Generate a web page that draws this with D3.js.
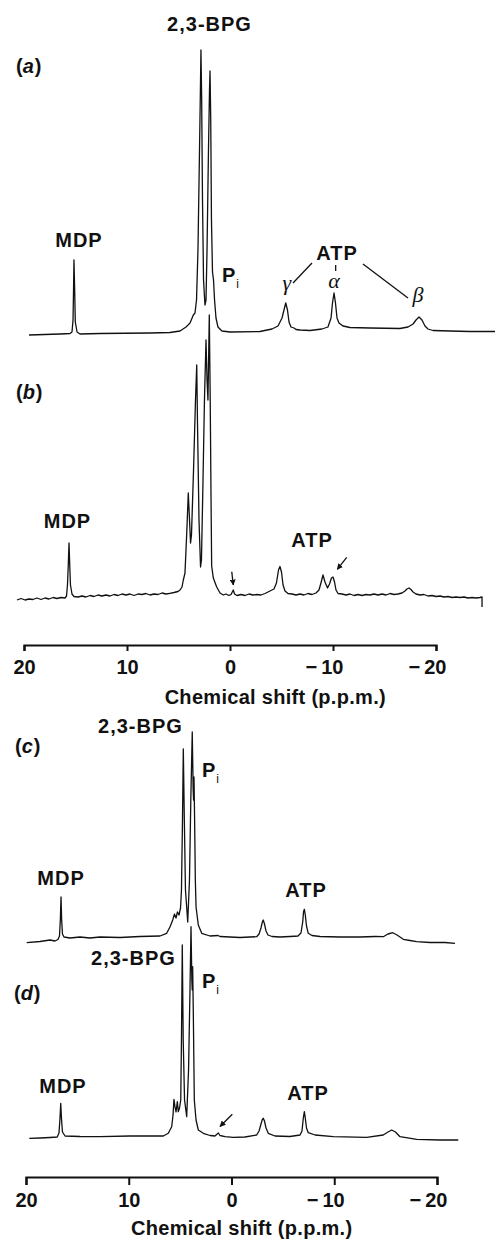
<!DOCTYPE html>
<html>
<head>
<meta charset="utf-8">
<script src="https://cdn.jsdelivr.net/npm/d3@7"></script>
<style>
  body { margin: 0; background: #fff; }
  svg text { font-family: "Liberation Sans", Arial, Helvetica, sans-serif; fill: #111; }
</style>
</head>
<body>
<script>
// chemical shift axis (p.p.m.)
var ticks = [20, 10, 0, -10, -20];
var axisTitle = "Chemical shift (p.p.m.)";

// 31P spectra: [shift (p.p.m.), signal height]
var specA = [
  [19.51,1],[16.50,2],[15.53,2.5],[15.34,4],[15.24,16],[15.19,46],[15.15,76],[15.08,46],[15.02,14],
  [14.85,4],[14.56,2],[12.62,2.5],[7.77,3],[5.83,3.5],[4.85,5],[4.27,9],[3.88,13],[3.56,21],[3.40,23],
  [3.25,36],[3.11,86],[2.96,186],[2.86,256],[2.82,286],[2.75,236],[2.67,136],[2.57,56],[2.43,31],
  [2.33,36],[2.23,86],[2.09,186],[1.99,246],[1.94,265],[1.87,216],[1.80,116],[1.70,64],[1.60,56],
  [1.50,36],[1.36,18],[1.17,9],[0.78,5],[0.00,4],[-2.91,4.5],[-4.08,7],[-4.66,10],[-5.05,18],
  [-5.24,26],[-5.41,33],[-5.58,26],[-5.73,14],[-5.92,9],[-6.21,8],[-6.41,6.5],[-6.80,6],[-7.77,5.5],
  [-8.93,7],[-9.51,9],[-9.81,18],[-9.95,33],[-10.10,43],[-10.24,33],[-10.39,18],[-10.58,13],
  [-10.97,10],[-11.65,8.5],[-13.59,8],[-16.50,7.5],[-17.28,9],[-17.77,12],[-18.06,16],[-18.35,19],
  [-18.64,16],[-18.93,10],[-19.22,7],[-19.71,5.5],[-21.36,5],[-23.30,4.5],[-25.73,4.5]
];

var specB = [
  [20.68,0],[20.29,1.5],[19.90,0],[19.51,1],[19.13,0.5],[18.74,2],[18.35,0.5],[17.96,2],[17.57,1],
  [17.18,2.5],[16.80,1.5],[16.41,2.5],[16.02,2],[15.87,4],[15.78,15],[15.70,35],[15.63,57],[15.56,35],
  [15.49,15],[15.34,6],[15.15,3.5],[14.76,3],[14.37,4],[13.98,3],[13.59,4.5],[13.20,3.5],[12.82,5],
  [12.43,4],[12.04,5],[11.65,4],[11.26,5.5],[10.87,4.5],[10.49,6],[10.10,5],[9.71,6],[9.32,4.5],
  [8.93,6],[8.54,5.5],[8.16,6.5],[7.77,5],[7.38,6],[6.99,5.5],[6.60,7],[6.21,6],[5.83,6.7],[5.44,7.5],
  [5.05,8.5],[4.85,10],[4.66,13],[4.53,20],[4.37,27],[4.20,67],[4.05,107],[3.93,80],[3.83,57],
  [3.74,65],[3.54,130],[3.35,200],[3.23,235],[3.16,180],[3.01,80],[2.86,33],[2.77,40],[2.62,120],
  [2.48,200],[2.33,260],[2.23,220],[2.14,200],[2.01,285],[1.92,200],[1.84,100],[1.78,34],[1.62,22],
  [1.29,13],[0.97,7],[0.65,5],[0.39,6],[0.10,4.5],[-0.10,5.5],[-0.32,10],[-0.44,6],[-0.68,4.5],
  [-1.07,5.5],[-1.46,4.5],[-1.84,6],[-2.23,5],[-2.62,5.5],[-3.01,5],[-3.40,6.5],[-3.69,8],[-4.27,11],
  [-4.51,17],[-4.71,30],[-4.85,33.5],[-5.00,28],[-5.15,15],[-5.34,9],[-5.63,6.5],[-6.02,6],[-6.41,5],
  [-6.80,6],[-7.18,5],[-7.57,6.5],[-7.96,5.5],[-8.35,7],[-8.64,10],[-8.83,17],[-9.03,25],[-9.22,18],
  [-9.47,12],[-9.66,16],[-9.85,22],[-10.00,23],[-10.15,18],[-10.29,10],[-10.49,6.5],[-10.87,6],
  [-11.26,5],[-11.65,6],[-12.04,4.5],[-12.43,5.5],[-12.82,4.5],[-13.20,5.5],[-13.59,5],[-13.98,6],
  [-14.37,5],[-14.76,6],[-15.15,5],[-15.53,6.5],[-15.92,5.5],[-16.31,6],[-16.70,7],[-16.99,9],
  [-17.18,11],[-17.38,12],[-17.57,10.5],[-17.77,8],[-18.06,6],[-18.45,5],[-18.83,5.5],[-19.22,4],
  [-19.61,4.5],[-20.00,3.5],[-20.39,4],[-20.78,3],[-21.17,3.5],[-21.55,2.5],[-21.94,3],[-22.33,2.5],
  [-22.72,3],[-23.11,2],[-23.50,2.5],[-23.88,2],[-24.27,2.5],[-24.47,3],[-24.47,-7]
];

var specC = [
  [19.93,0.3],[18.64,1.5],[17.66,3],[17.18,2],[16.89,3.5],[16.74,7],[16.66,23],[16.59,46],[16.53,23],
  [16.45,9],[16.30,6],[15.72,5],[14.74,6],[13.77,5],[12.80,6],[10.85,5.5],[8.91,6.5],[6.96,7],
  [6.31,9.7],[5.99,16],[5.72,23],[5.55,29],[5.40,25],[5.26,31],[5.11,28],[4.96,35],[4.87,53],
  [4.77,123],[4.69,194],[4.59,123],[4.48,53],[4.26,21],[4.09,63],[3.96,143],[3.82,211],[3.73,153],
  [3.69,143],[3.65,166],[3.59,123],[3.52,63],[3.45,36],[3.23,18],[2.90,9.7],[2.09,7],[1.31,7.5],
  [1.12,6.5],[0.15,6],[-0.83,5.5],[-1.80,6],[-2.45,6.3],[-2.68,9],[-2.87,15],[-3.00,21],[-3.09,23],
  [-3.21,19],[-3.36,12],[-3.55,8],[-3.94,6.5],[-4.72,6],[-5.69,6.5],[-6.47,7],[-6.76,10],[-6.93,21],
  [-7.01,31],[-7.09,33.7],[-7.17,29],[-7.30,17],[-7.47,9.7],[-7.83,7.5],[-8.61,6.5],[-10.56,6],
  [-12.51,6],[-13.97,6.5],[-14.77,6.3],[-15.23,9],[-15.69,10.3],[-16.11,8],[-16.72,3.7],[-17.37,2.5],
  [-18.02,1.3],[-19.32,0.5],[-20.78,0.5],[-21.75,-0.3]
];

var specD = [
  [19.68,1.7],[18.64,2],[17.66,2.5],[16.96,3],[16.79,7],[16.69,22],[16.62,36.7],[16.55,22],[16.45,8],
  [16.20,4],[14.74,3.5],[12.80,3.3],[9.88,4],[6.64,4],[6.15,6.7],[5.99,10],[5.82,13.3],[5.69,25],
  [5.60,40.7],[5.50,33.3],[5.40,28],[5.27,38.3],[5.18,28.3],[5.06,32],[4.94,40],[4.87,100],[4.79,195],
  [4.70,100],[4.57,40],[4.36,23.3],[4.18,70],[4.04,150],[3.94,213.3],[3.86,160],[3.82,150],[3.78,173.3],
  [3.72,130],[3.62,40],[3.45,20],[3.23,10],[2.74,6.7],[2.09,4.5],[1.61,4],[1.28,7],[1.12,4.5],
  [0.63,3.3],[-0.18,2.7],[-1.31,3],[-2.45,5],[-2.68,9],[-2.87,16],[-3.00,20.5],[-3.09,21.7],[-3.21,19],
  [-3.36,12],[-3.58,6.7],[-4.23,4],[-5.69,3.5],[-6.67,5],[-6.86,9],[-6.99,22],[-7.09,28.3],[-7.18,22],
  [-7.30,12],[-7.47,7.3],[-8.13,5],[-9.91,3.3],[-13.16,2.7],[-14.77,5],[-15.23,8],[-15.59,10],
  [-15.96,8],[-16.40,3.3],[-18.02,0.7],[-20.29,0],[-22.07,0]
];

var w = 495;
var h = 1241;

var svg = d3.select("body").append("svg")
    .attr("width", w)
    .attr("height", h);

// arrow head
svg.append("defs").append("marker")
    .attr("id", "head")
    .attr("viewBox", "0 0 10 10")
    .attr("refX", 9).attr("refY", 5)
    .attr("markerWidth", 6).attr("markerHeight", 6)
    .attr("markerUnits", "userSpaceOnUse")
    .attr("orient", "auto")
  .append("path")
    .attr("d", "M0,0L10,5L0,10z")
    .attr("fill", "#111");

// x scales, one per pair of spectra
var xTop = d3.scaleLinear().domain([20, -20]).range([24, 436]);
var xBot = d3.scaleLinear().domain([20, -20]).range([26, 437]);

function yScale(base) {
  return d3.scaleLinear().domain([0, 300]).range([base, base - 300]);
}

var pa = { x: xTop, y: yScale(336) };
var pb = { x: xTop, y: yScale(600) };
var pc = { x: xBot, y: yScale(943) };
var pd = { x: xBot, y: yScale(1140) };

function trace(p, data) {
  var line = d3.line()
      .x(function(d) { return p.x(d[0]); })
      .y(function(d) { return p.y(d[1]); });
  svg.append("path")
     .datum(data)
     .attr("d", line)
     .attr("fill", "none")
     .attr("stroke", "#111")
     .attr("stroke-width", 1.3)
     .attr("stroke-linejoin", "round");
}

trace(pa, specA);
trace(pb, specB);
trace(pc, specC);
trace(pd, specD);

// labels
function label(p, ppm, v, txt, anchor) {
  return svg.append("text")
     .attr("x", p.x(ppm))
     .attr("y", p.y(v))
     .attr("text-anchor", anchor || "middle")
     .attr("font-size", 20)
     .attr("font-weight", "bold")
     .attr("letter-spacing", 1)
     .text(txt);
}

function panelTag(p, ppm, v, letter) {
  var t = svg.append("text")
     .attr("x", p.x(ppm))
     .attr("y", p.y(v))
     .attr("font-size", 20)
     .attr("font-weight", "bold");
  t.append("tspan").text("(");
  t.append("tspan").attr("font-style", "italic").text(letter);
  t.append("tspan").attr("dx", 1).text(")");
}

function pi(p, ppm, v) {
  var t = svg.append("text")
     .attr("x", p.x(ppm))
     .attr("y", p.y(v))
     .attr("font-size", 20)
     .attr("font-weight", "bold");
  t.append("tspan").text("P");
  t.append("tspan").attr("dx", 1).attr("dy", 6).attr("font-size", 12)
   .attr("font-weight", "normal").text("i");
}

function greek(p, ppm, v, txt) {
  svg.append("text")
     .attr("x", p.x(ppm))
     .attr("y", p.y(v))
     .attr("text-anchor", "middle")
     .attr("font-size", 22)
     .attr("font-style", "italic")
     .style("font-family", "'Liberation Serif', 'Times New Roman', serif")
     .text(txt);
}

function seg(p, a, b, arrow) {
  var l = svg.append("line")
     .attr("x1", p.x(a[0])).attr("y1", p.y(a[1]))
     .attr("x2", p.x(b[0])).attr("y2", p.y(b[1]))
     .attr("stroke", "#111")
     .attr("stroke-width", 1.3);
  if (arrow) l.attr("marker-end", "url(#head)");
}

// (a)
label(pa, 1.99, 305, "2,3-BPG");
panelTag(pa, 20.78, 263, "a");
label(pa, 14.66, 89, "MDP");
pi(pa, 0.78, 54);
label(pa, -10.39, 76, "ATP");
greek(pa, -5.53, 46, "\u03b3");
greek(pa, -10.10, 48, "\u03b1");
greek(pa, -18.25, 34, "\u03b2");
seg(pa, [-6.12, 53], [-7.96, 73]);
seg(pa, [-10.26, 71], [-10.26, 65]);
seg(pa, [-12.91, 72], [-17.28, 38]);

// (b)
panelTag(pb, 20.78, 201, "b");
label(pb, 15.78, 72, "MDP");
label(pb, -7.96, 53, "ATP");
seg(pb, [-0.17, 28.3], [-0.32, 15], true);
seg(pb, [-11.33, 42.7], [-10.42, 30.7], true);

// (c)
label(pc, 8.86, 210, "2,3-BPG");
panelTag(pc, 21.07, 190, "c");
pi(pc, 2.87, 166);
label(pc, 16.59, 58, "MDP");
label(pc, -7.25, 46, "ATP");

// (d)
label(pd, 9.54, 175, "2,3-BPG");
panelTag(pd, 21.17, 140, "d");
pi(pd, 2.87, 152);
label(pd, 16.40, 47, "MDP");
label(pd, -7.45, 40, "ATP");
seg(pd, [-0.08, 25.7], [1.12, 13.5], true);

// axes
function axis(x, yPos, tick, labY, titleAt, titleY) {
  var g = svg.append("g")
     .attr("transform", "translate(0," + yPos + ")")
     .call(d3.axisBottom(x)
        .tickValues(ticks)
        .tickSize(tick)
        .tickSizeOuter(tick)
        .tickFormat(function(d) { return d < 0 ? "\u2212\u2009" + (-d) : d; }))
     .attr("font-size", 20)
     .attr("font-weight", "bold");
  g.select(".domain").attr("stroke", "#111").attr("stroke-width", 2.2);
  g.selectAll(".tick line").attr("stroke", "#111").attr("stroke-width", 2);
  g.selectAll(".tick text")
     .attr("y", labY)
     .attr("dy", 0)
     .attr("dx", function(d) { return d < 0 ? -9 : 0; });
  svg.append("text")
     .attr("x", x(titleAt))
     .attr("y", titleY)
     .attr("text-anchor", "middle")
     .attr("font-size", 20)
     .attr("font-weight", "bold")
     .attr("letter-spacing", 0.3)
     .text(axisTitle);
}

axis(xTop, 645, 6, 29, -4.4, 704);
axis(xBot, 1177, 8, 30, -1.0, 1235);
</script>
</body>
</html>
